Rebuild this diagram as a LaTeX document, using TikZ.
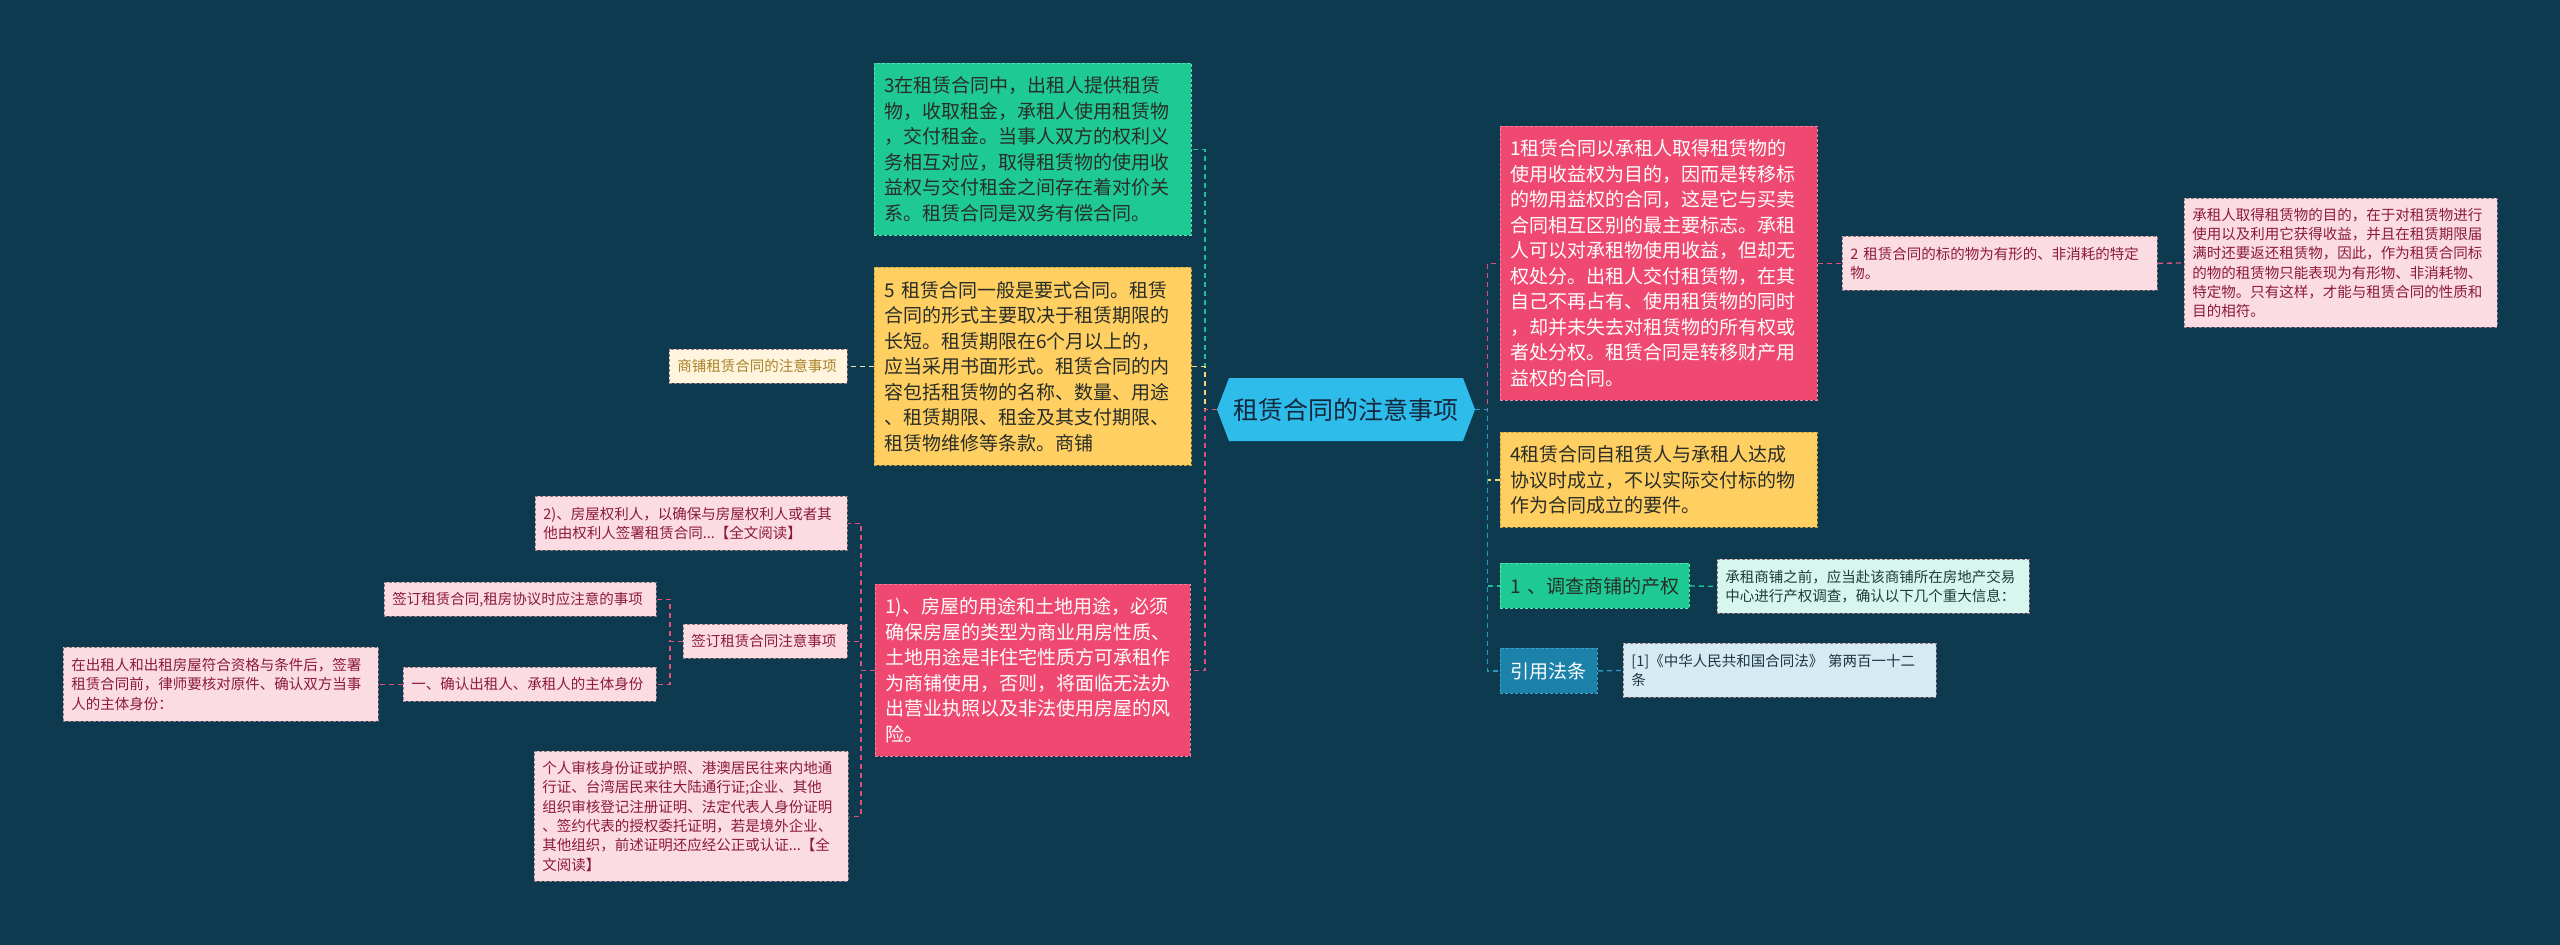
\documentclass[tikz,border=0pt]{standalone}
\usepackage{fontspec}
\setmainfont{Noto Sans CJK SC}
\definecolor{bg}{RGB}{13,58,79}
\definecolor{hexc}{RGB}{46,188,235}
\definecolor{hextext}{RGB}{20,40,60}
\definecolor{cpink}{RGB}{239,73,113}
\definecolor{cpinkd}{RGB}{248,130,160}
\definecolor{cgreen}{RGB}{31,201,148}
\definecolor{cgreend}{RGB}{90,225,180}
\definecolor{cyellow}{RGB}{255,207,97}
\definecolor{cyellowd}{RGB}{200,160,60}
\definecolor{lpink}{RGB}{252,220,227}
\definecolor{lpinkd}{RGB}{150,120,130}
\definecolor{lpinkt}{RGB}{140,26,58}
\definecolor{cream}{RGB}{255,245,222}
\definecolor{creamt}{RGB}{170,130,40}
\definecolor{mint}{RGB}{214,246,238}
\definecolor{mintt}{RGB}{30,60,55}
\definecolor{cblue}{RGB}{28,130,170}
\definecolor{cblued}{RGB}{60,160,200}
\definecolor{lblue}{RGB}{213,234,242}
\definecolor{lbluet}{RGB}{30,55,70}
\definecolor{darkt}{RGB}{40,45,40}
\definecolor{lnpink}{RGB}{225,80,120}
\definecolor{lngreen}{RGB}{30,190,150}
\definecolor{lnyellow}{RGB}{245,215,120}
\definecolor{lnblue}{RGB}{40,155,195}
\definecolor{lncream}{RGB}{240,225,180}
\begin{document}
\begin{tikzpicture}[x=1pt,y=-1pt,
  box/.style={anchor=north west, align=left, inner ysep=0pt, dash pattern=on 3pt off 2pt, line width=0.8pt},
  bigbox/.style={box, inner xsep=10pt, font=\fontsize{19}{25.5}\selectfont},
  smallbox/.style={box, inner xsep=8pt, font=\fontsize{14.5}{19.3}\selectfont},
  pinkbox/.style={fill=cpink, draw=cpinkd, text=white},
  greenbox/.style={fill=cgreen, draw=cgreend, text=darkt},
  yellowbox/.style={fill=cyellow, draw=cyellowd, text=darkt},
  lpinkbox/.style={fill=lpink, draw=lpinkd, text=lpinkt},
  creambox/.style={fill=cream, draw=lpinkd, text=creamt},
  mintbox/.style={fill=mint, draw=lpinkd, text=mintt},
  bluebox/.style={fill=cblue, draw=cblued, text=white},
  lbluebox/.style={fill=lblue, draw=lpinkd, text=lbluet},
  link/.style={dash pattern=on 5pt off 4pt, line width=1.4pt},
]
\fill[bg] (0,0) rectangle (2560,945);
\useasboundingbox (0,0) rectangle (2560,945);

% central hexagon
\fill[hexc] (1217,409.5) -- (1229,378) -- (1463,378) -- (1475,409.5) -- (1463,441) -- (1229,441) -- cycle;
\node[minimum width=258pt, minimum height=63pt, inner sep=0pt, text=hextext, font=\fontsize{25}{30}\selectfont] (c) at (1346,409.5) {租赁合同的注意事项};

% left main nodes
\node[bigbox, greenbox, text width=297pt, minimum height=172pt] (n3) at (874,63) {3在租赁合同中，出租人提供租赁\\物，收取租金，承租人使用租赁物\\，交付租金。当事人双方的权利义\\务相互对应，取得租赁物的使用收\\益权与交付租金之间存在着对价关\\系。租赁合同是双务有偿合同。};
\node[bigbox, yellowbox, text width=297pt, minimum height=198pt] (n5) at (874,267) {5~租赁合同一般是要式合同。租赁\\合同的形式主要取决于租赁期限的\\长短。租赁期限在6个月以上的，\\应当采用书面形式。租赁合同的内\\容包括租赁物的名称、数量、用途\\、租赁期限、租金及其支付期限、\\租赁物维修等条款。商铺};
\node[smallbox, creambox, text width=162pt, minimum height=34pt] (shop) at (669,349) {商铺租赁合同的注意事项};
\node[bigbox, pinkbox, text width=295pt, minimum height=172pt] (p1) at (875,584) {1)、房屋的用途和土地用途，必须\\确保房屋的类型为商业用房性质、\\土地用途是非住宅性质方可承租作\\为商铺使用，否则，将面临无法办\\出营业执照以及非法使用房屋的风\\险。};

% children of p1
\node[smallbox, lpinkbox, text width=296pt, minimum height=54pt] (a2) at (535,496) {2)、房屋权利人，以确保与房屋权利人或者其\\他由权利人签署租赁合同...【全文阅读】};
\node[smallbox, lpinkbox, text width=148pt, minimum height=34pt] (qd) at (683,624) {签订租赁合同注意事项};
\node[smallbox, lpinkbox, text width=298pt, minimum height=130pt] (idn) at (534,751) {个人审核身份证或护照、港澳居民往来内地通\\行证、台湾居民来往大陆通行证;企业、其他\\组织审核登记注册证明、法定代表人身份证明\\、签约代表的授权委托证明，若是境外企业、\\其他组织，前述证明还应经公正或认证...【全\\文阅读】};
\node[smallbox, lpinkbox, text width=256pt, minimum height=34pt] (qa) at (384,582) {签订租赁合同,租房协议时应注意的事项};
\node[smallbox, lpinkbox, text width=237pt, minimum height=34pt] (qb) at (403,667) {一、确认出租人、承租人的主体身份};
\node[smallbox, lpinkbox, text width=299pt, minimum height=74pt] (qc) at (63,647) {在出租人和出租房屋符合资格与条件后，签署\\租赁合同前，律师要核对原件、确认双方当事\\人的主体身份：};

% right main nodes
\node[bigbox, pinkbox, text width=297pt, minimum height=274pt] (n1) at (1500,126) {1租赁合同以承租人取得租赁物的\\使用收益权为目的，因而是转移标\\的物用益权的合同，这是它与买卖\\合同相互区别的最主要标志。承租\\人可以对承租物使用收益，但却无\\权处分。出租人交付租赁物，在其\\自己不再占有、使用租赁物的同时\\，却并未失去对租赁物的所有权或\\者处分权。租赁合同是转移财产用\\益权的合同。};
\node[smallbox, lpinkbox, text width=299pt, minimum height=54pt] (n2) at (1842,236) {2~租赁合同的标的物为有形的、非消耗的特定\\物。};
\node[smallbox, lpinkbox, text width=297pt, minimum height=129pt] (n2b) at (2184,198) {承租人取得租赁物的目的，在于对租赁物进行\\使用以及利用它获得收益，并且在租赁期限届\\满时还要返还租赁物，因此，作为租赁合同标\\的物的租赁物只能表现为有形物、非消耗物、\\特定物。只有这样，才能与租赁合同的性质和\\目的相符。};
\node[bigbox, yellowbox, text width=297pt, minimum height=95pt] (n4) at (1500,432) {4租赁合同自租赁人与承租人达成\\协议时成立，不以实际交付标的物\\作为合同成立的要件。};
\node[bigbox, greenbox, text width=169pt, minimum height=45pt] (ck) at (1500,563) {1~、调查商铺的产权};
\node[smallbox, mintbox, text width=296pt, minimum height=54pt] (mt) at (1717,559) {承租商铺之前，应当赴该商铺所在房地产交易\\中心进行产权调查，确认以下几个重大信息：};
\node[bigbox, bluebox, text width=77pt, minimum height=45pt] (law) at (1500,648) {引用法条};
\node[smallbox, lbluebox, text width=297pt, minimum height=54pt] (lb) at (1623,643) {[1]《中华人民共和国合同法》~第两百一十二\\条};

% connectors left
\draw[link, lngreen] (c.west) -- ([xshift=-12pt]c.west) |- (n3.east);
\draw[link, lnyellow] (c.west) -- ([xshift=-12pt]c.west) |- (n5.east);
\draw[link, lnpink] (c.west) -- ([xshift=-12pt]c.west) |- (p1.east);
\draw[link, lncream] (n5.west) -- (shop.east);
\draw[link, lnpink] (p1.west) -- ([xshift=-14pt]p1.west) |- (a2.east);
\draw[link, lnpink] (p1.west) -- ([xshift=-14pt]p1.west) |- (qd.east);
\draw[link, lnpink] (p1.west) -- ([xshift=-14pt]p1.west) |- (idn.east);
\draw[link, lnpink] (qd.west) -- ([xshift=-13pt]qd.west) |- (qa.east);
\draw[link, lnpink] (qd.west) -- ([xshift=-13pt]qd.west) |- (qb.east);
\draw[link, lnpink] (qb.west) -- (qc.east);

% connectors right
\draw[link, lnpink] (c.east) -- ([xshift=12pt]c.east) |- (n1.west);
\draw[link, lnyellow] (c.east) -- ([xshift=12pt]c.east) |- (n4.west);
\draw[link, lngreen] (c.east) -- ([xshift=12pt]c.east) |- (ck.west);
\draw[link, lnblue] (c.east) -- ([xshift=12pt]c.east) |- (law.west);
\draw[link, lnpink] (n1.east) -- (n2.west);
\draw[link, lnpink] (n2.east) -- (n2b.west);
\draw[link, lngreen] (ck.east) -- (mt.west);
\draw[link, lnblue] (law.east) -- (lb.west);
\end{tikzpicture}
\end{document}
